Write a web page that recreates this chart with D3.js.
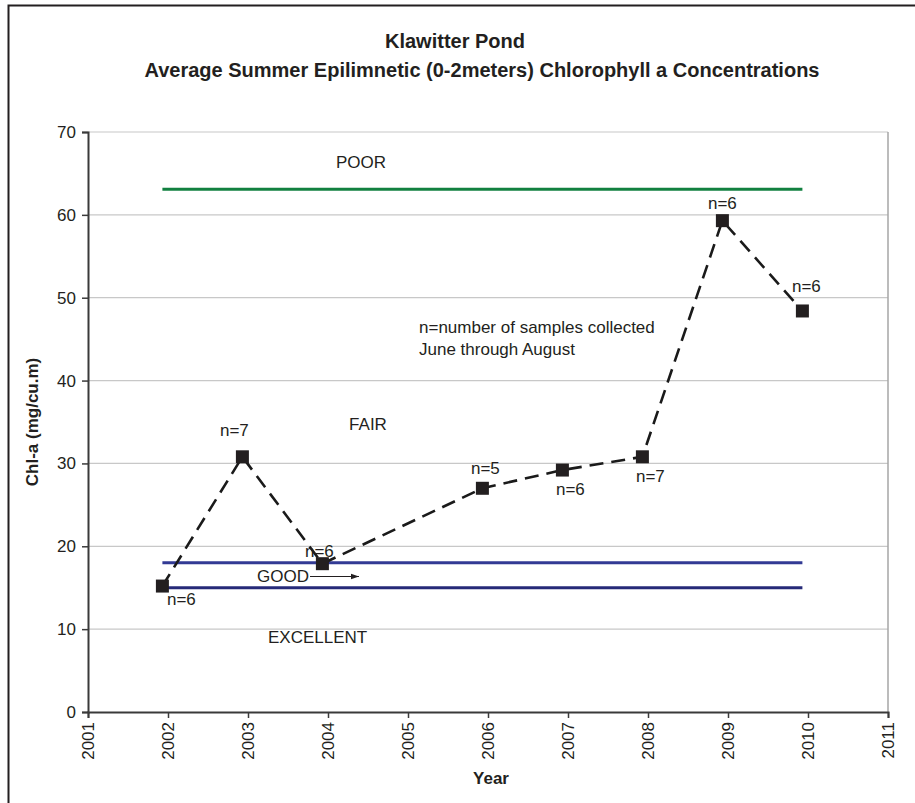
<!DOCTYPE html>
<html>
<head>
<meta charset="utf-8">
<script src="https://cdn.jsdelivr.net/npm/d3@7"></script>
<style>
  body { margin: 0; background: #fff; }
  text { font-family: "Liberation Sans", Arial, sans-serif; fill: #231f20; }
</style>
</head>
<body>
<div id="chart"></div>
<script>
// sample dates (fractional years) and summer mean Chl-a
const sampleYears = [2001.93, 2002.93, 2003.93, 2005.93, 2006.93, 2007.93, 2008.93, 2009.93];
const chlA = [15.2, 30.8, 17.9, 27.0, 29.2, 30.8, 59.3, 48.4];
const sampleCounts = ['n=6', 'n=7', 'n=6', 'n=5', 'n=6', 'n=7', 'n=6', 'n=6'];
const xTicks = d3.range(2001, 2012);
const yTicks = [0, 10, 20, 30, 40, 50, 60, 70];
// trophic boundaries
const poorLine = 63.1;
const goodLines = [18, 15];

const width = 915;
const height = 803;
const margin = { top: 132, right: 27, bottom: 91, left: 88 };
const FONT = '"Liberation Sans", Arial, sans-serif';

const svg = d3.select('#chart')
  .append('svg')
  .attr('width', width)
  .attr('height', height);

// outer frame
svg.append('rect')
  .attr('x', 8.5).attr('y', 5.5)
  .attr('width', width + 10).attr('height', height + 10)
  .attr('fill', 'none').attr('stroke', '#231f20').attr('stroke-width', 2);

const x = d3.scaleLinear().domain([2001, 2011]).range([margin.left, width - margin.right]);
const y = d3.scaleLinear().domain([0, 70]).range([height - margin.bottom, margin.top]);

// gridlines
svg.append('g')
  .selectAll('line')
  .data(yTicks.filter(d => d > 0))
  .enter()
  .append('line')
  .attr('x1', x(2001)).attr('x2', x(2011))
  .attr('y1', d => y(d)).attr('y2', d => y(d))
  .attr('stroke', '#c8c8c8').attr('stroke-width', 1.2);

// right border of plot area
svg.append('line')
  .attr('x1', x(2011)).attr('x2', x(2011))
  .attr('y1', y(70)).attr('y2', y(0))
  .attr('stroke', '#a6a6a6').attr('stroke-width', 1.5);

// axes
const yAxis = svg.append('g')
  .attr('transform', `translate(${x(2001)},0)`)
  .call(d3.axisLeft(y).tickValues(yTicks).tickSize(6).tickPadding(6));
yAxis.select('.domain').attr('stroke', '#3a3a3a').attr('stroke-width', 2);
yAxis.selectAll('.tick line').attr('stroke', '#3a3a3a').attr('stroke-width', 1.5);
yAxis.selectAll('.tick text').style('font-size', '17px').style('font-family', FONT).attr('fill', '#231f20');

const xAxis = svg.append('g')
  .attr('transform', `translate(0,${y(0)})`)
  .call(d3.axisBottom(x).tickValues(xTicks).tickFormat(d3.format('d')).tickSize(6));
xAxis.select('.domain').attr('stroke', '#3a3a3a').attr('stroke-width', 2);
xAxis.selectAll('.tick line').attr('stroke', '#3a3a3a').attr('stroke-width', 1.5);
xAxis.selectAll('.tick text')
  .style('font-size', '17px').style('font-family', FONT).attr('fill', '#231f20')
  .attr('transform', 'rotate(-90)')
  .attr('x', -10).attr('y', 0).attr('dy', '0.35em')
  .style('text-anchor', 'end');

// trophic boundary lines
svg.append('line')
  .attr('x1', x(sampleYears[0])).attr('x2', x(sampleYears[sampleYears.length - 1]))
  .attr('y1', y(poorLine)).attr('y2', y(poorLine))
  .attr('stroke', '#128040').attr('stroke-width', 3);

svg.append('g')
  .selectAll('line')
  .data(goodLines)
  .enter()
  .append('line')
  .attr('x1', x(sampleYears[0])).attr('x2', x(sampleYears[sampleYears.length - 1]))
  .attr('y1', d => y(d)).attr('y2', d => y(d))
  .attr('stroke', (d, i) => i === 0 ? '#323a94' : '#262a78')
  .attr('stroke-width', 3);

// data line
const pts = sampleYears.map((d, i) => [d, chlA[i]]);
svg.append('path')
  .datum(pts)
  .attr('d', d3.line().x(d => x(d[0])).y(d => y(d[1])))
  .attr('fill', 'none')
  .attr('stroke', '#1a1a1a')
  .attr('stroke-width', 2.6)
  .attr('stroke-dasharray', '14,8');

svg.append('g')
  .selectAll('rect')
  .data(pts)
  .enter()
  .append('rect')
  .attr('x', d => x(d[0]) - 6.5)
  .attr('y', d => y(d[1]) - 6.5)
  .attr('width', 13).attr('height', 13)
  .attr('fill', '#231f20');

// n labels: offsets relative to the point
const labelOffsets = [[19, 19], [-8, -21], [-3, -7], [3, -14], [8, 25], [8, 25], [0, -12], [4, -19]];
svg.append('g')
  .selectAll('text')
  .data(pts)
  .enter()
  .append('text')
  .attr('x', (d, i) => x(d[0]) + labelOffsets[i][0])
  .attr('y', (d, i) => y(d[1]) + labelOffsets[i][1])
  .attr('text-anchor', 'middle')
  .style('font-size', '17px')
  .text((d, i) => sampleCounts[i]);

// zone labels
const note = svg.append('g').style('font-size', '17px');
note.append('text').attr('x', 361).attr('y', 168).attr('text-anchor', 'middle').text('POOR');
note.append('text').attr('x', 368).attr('y', 430).attr('text-anchor', 'middle').text('FAIR');
note.append('text').attr('x', 257).attr('y', 582).text('GOOD');
note.append('text').attr('x', 268).attr('y', 643).text('EXCELLENT');
note.append('text').attr('x', 419).attr('y', 333).text('n=number of samples collected');
note.append('text').attr('x', 419).attr('y', 355).text('June through August');

svg.append('defs').append('marker')
  .attr('id', 'arrow')
  .attr('viewBox', '0 0 10 10')
  .attr('refX', 10).attr('refY', 5)
  .attr('markerWidth', 7).attr('markerHeight', 7)
  .attr('orient', 'auto')
  .append('path').attr('d', 'M0,1.5 L10,5 L0,8.5 z').attr('fill', '#231f20');
svg.append('line')
  .attr('x1', 310).attr('x2', 359)
  .attr('y1', 576.5).attr('y2', 576.5)
  .attr('stroke', '#231f20').attr('stroke-width', 1.2)
  .attr('marker-end', 'url(#arrow)');

// titles
svg.append('text')
  .attr('x', 455).attr('y', 48)
  .attr('text-anchor', 'middle')
  .style('font-size', '20px').style('font-weight', 'bold')
  .text('Klawitter Pond');
svg.append('text')
  .attr('x', 482).attr('y', 77)
  .attr('text-anchor', 'middle')
  .style('font-size', '20px').style('font-weight', 'bold')
  .text('Average Summer Epilimnetic (0-2meters) Chlorophyll a Concentrations');

svg.append('text')
  .attr('transform', `translate(38,${(y(0) + y(70)) / 2}) rotate(-90)`)
  .attr('text-anchor', 'middle')
  .style('font-size', '17px').style('font-weight', 'bold')
  .text('Chl-a (mg/cu.m)');

svg.append('text')
  .attr('x', 491).attr('y', 784)
  .attr('text-anchor', 'middle')
  .style('font-size', '17px').style('font-weight', 'bold')
  .text('Year');
</script>
</body>
</html>
